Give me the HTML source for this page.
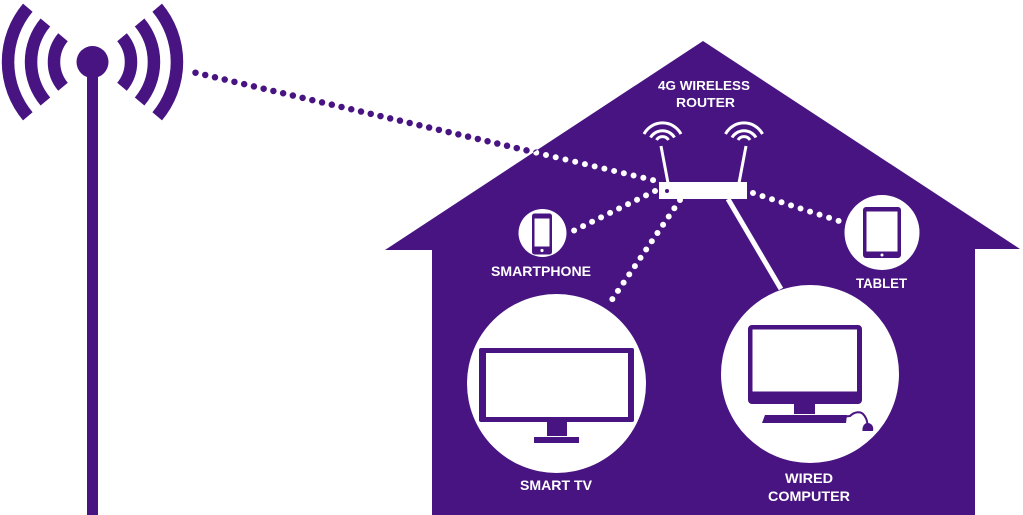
<!DOCTYPE html>
<html><head><meta charset="utf-8"><style>
html,body{margin:0;padding:0;background:#fff;}
svg{display:block;}
text{font-family:"Liberation Sans",sans-serif;font-weight:bold;fill:#fff;}
</style></head><body>
<svg width="1023" height="515" viewBox="0 0 1023 515" xmlns="http://www.w3.org/2000/svg">
<defs>
<clipPath id="house"><polygon points="703,41 1020,249 975,249 975,515 432,515 432,250 385,250"/></clipPath>
</defs>
<!-- house -->
<polygon points="703,41 1020,249 975,249 975,515 432,515 432,250 385,250" fill="#481482"/>

<!-- antenna tower -->
<g fill="none" stroke="#481482" stroke-width="12.5">
<path d="M63 37.25 A38.5 38.5 0 0 0 63 86.75"/>
<path d="M122 37.25 A38.5 38.5 0 0 1 122 86.75"/>
<path d="M45.4 22.5 A61.5 61.5 0 0 0 45.4 101.5"/>
<path d="M139.6 22.5 A61.5 61.5 0 0 1 139.6 101.5"/>
<path d="M27.8 7.7 A84.5 84.5 0 0 0 27.8 116.3"/>
<path d="M157.2 7.7 A84.5 84.5 0 0 1 157.2 116.3"/>
</g>
<circle cx="92.5" cy="62" r="16" fill="#481482"/>
<rect x="87" y="62" width="11" height="453" fill="#481482"/>

<!-- tower dotted line -->
<line x1="195.5" y1="72.7" x2="657" y2="181" stroke="#481482" stroke-width="6.5" stroke-linecap="round" stroke-dasharray="0 10"/>
<line x1="195.5" y1="72.7" x2="657" y2="181" stroke="#fff" stroke-width="6" stroke-linecap="round" stroke-dasharray="0 10" clip-path="url(#house)"/>

<!-- router dotted lines -->
<g stroke="#fff" stroke-width="6" stroke-linecap="round" stroke-dasharray="0 10" fill="none">
<line x1="655" y1="191" x2="571" y2="232"/>
<line x1="680" y1="200" x2="609" y2="304"/>
<line x1="753" y1="193" x2="842" y2="222"/>
</g>
<line x1="728" y1="199" x2="781" y2="289" stroke="#fff" stroke-width="5"/>

<!-- router -->
<line x1="661" y1="146" x2="668" y2="183" stroke="#fff" stroke-width="3"/>
<line x1="746" y1="146" x2="739" y2="183" stroke="#fff" stroke-width="3"/>
<rect x="659" y="182" width="88" height="17" fill="#fff"/>
<circle cx="667" cy="191" r="2" fill="#481482"/>
<g fill="none" stroke="#fff" stroke-width="3" stroke-linecap="butt">
<path d="M644 134 A21 21 0 0 1 681 134"/>
<path d="M650.5 137.5 A14 14 0 0 1 674.5 137.5"/>
<path d="M656.5 140 A7 7 0 0 1 668.5 140"/>
<path d="M725.5 134 A21 21 0 0 1 762.5 134"/>
<path d="M732 137.5 A14 14 0 0 1 756 137.5"/>
<path d="M738 140 A7 7 0 0 1 750 140"/>
</g>
<text x="658" y="90" font-size="13" textLength="92" lengthAdjust="spacingAndGlyphs">4G WIRELESS</text>
<text x="676" y="107" font-size="13" textLength="59" lengthAdjust="spacingAndGlyphs">ROUTER</text>

<!-- smartphone -->
<circle cx="542.5" cy="233" r="24" fill="#fff"/>
<rect x="532" y="213.5" width="20" height="41" rx="2.5" fill="#481482"/>
<rect x="534.5" y="218.5" width="15" height="28" fill="#fff"/>
<circle cx="542" cy="250.5" r="1.6" fill="#fff"/>
<text x="491" y="276" font-size="14" textLength="100" lengthAdjust="spacingAndGlyphs">SMARTPHONE</text>

<!-- tablet -->
<circle cx="882" cy="232.5" r="37.5" fill="#fff"/>
<rect x="863" y="207" width="38" height="51" rx="3" fill="#481482"/>
<rect x="866.5" y="211.5" width="31" height="40" fill="#fff"/>
<circle cx="882" cy="255" r="1.5" fill="#fff"/>
<text x="856" y="288" font-size="14" textLength="51" lengthAdjust="spacingAndGlyphs">TABLET</text>

<!-- smart tv -->
<circle cx="556.5" cy="383.5" r="89.5" fill="#fff"/>
<rect x="479" y="348" width="155" height="74" rx="2" fill="#481482"/>
<rect x="486" y="353" width="142" height="64" fill="#fff"/>
<rect x="547" y="422" width="20" height="14" fill="#481482"/>
<rect x="534" y="437" width="45" height="6" fill="#481482"/>
<text x="520" y="490" font-size="14" textLength="72" lengthAdjust="spacingAndGlyphs">SMART TV</text>

<!-- wired computer -->
<circle cx="810" cy="374" r="89" fill="#fff"/>
<rect x="748" y="325" width="114" height="79" rx="4" fill="#481482"/>
<rect x="752.5" y="329.5" width="104.5" height="62" fill="#fff"/>
<rect x="794" y="403" width="21" height="11" fill="#481482"/>
<polygon points="765,415 847,415 846,423 762,423" fill="#481482"/>
<path d="M845 416.5 L850 416 C854 412,860 411,863 414 C866 417,867 420,867.5 424" fill="none" stroke="#481482" stroke-width="2"/>
<path d="M867.5 423 C872 423,874 427,873 431 L862.5 431 C862 427,864 423,867.5 423 Z" fill="#481482"/>
<text x="785" y="483" font-size="14" textLength="48" lengthAdjust="spacingAndGlyphs">WIRED</text>
<text x="768" y="501" font-size="14" textLength="82" lengthAdjust="spacingAndGlyphs">COMPUTER</text>
</svg>
</body></html>
